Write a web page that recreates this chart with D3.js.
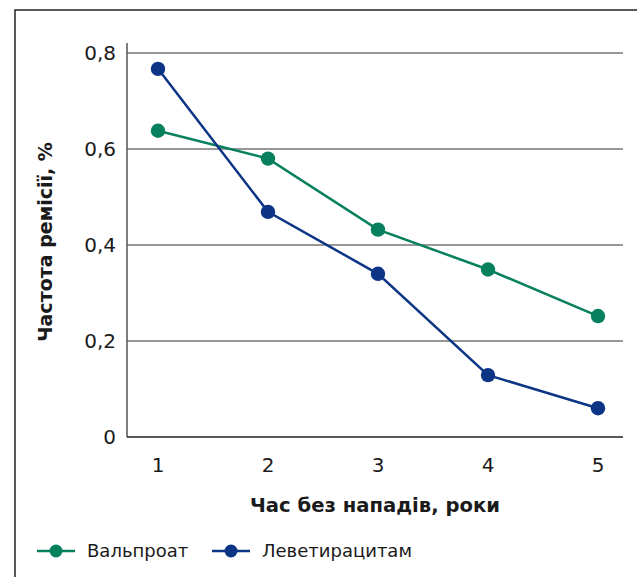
<!DOCTYPE html>
<html><head><meta charset="utf-8">
<script src="https://cdn.jsdelivr.net/npm/d3@7"></script>
<style>body{margin:0;background:#fff}svg{display:block}text{font-family:"DejaVu Sans",sans-serif;fill:#1a1a1a}</style>
</head><body><svg id="c" width="637" height="577"></svg>
<script>
const years = [1, 2, 3, 4, 5];
const valproate = [0.638, 0.580, 0.432, 0.349, 0.252];
const levetiracetam = [0.767, 0.469, 0.340, 0.129, 0.060];
const yTicks = [0, 0.2, 0.4, 0.6, 0.8];
const seriesNames = ["Вальпроат", "Леветирацитам"];
const colors = ["#07805e", "#0d3585"];
const xTitle = "Час без нападів, роки";
const yTitle = "Частота ремісії, %";

const svg = d3.select("#c");
// frame
svg.append("rect").attr("x",15).attr("y",10).attr("width",640).attr("height",600)
  .attr("fill","none").attr("stroke","#222").attr("stroke-width",1.5);

const x = d3.scaleLinear().domain([1,5]).range([158,598]);
const y = d3.scaleLinear().domain([0,0.8]).range([437,53]);
const axisLeft = 127, axisRight = 623;

// gridlines
svg.append("g").selectAll("line").data(yTicks.filter(d=>d>0)).join("line")
  .attr("x1",axisLeft).attr("x2",axisRight).attr("y1",d=>y(d)).attr("y2",d=>y(d))
  .attr("stroke","#333").attr("stroke-width",1.2);
// axes lines
svg.append("line").attr("x1",axisLeft).attr("x2",axisLeft).attr("y1",43).attr("y2",y(0))
  .attr("stroke","#555").attr("stroke-width",1.5);
svg.append("line").attr("x1",axisLeft).attr("x2",axisRight).attr("y1",y(0)).attr("y2",y(0))
  .attr("stroke","#222").attr("stroke-width",1.5);

// y tick labels
const fmt = d => d===0 ? "0" : d.toFixed(1).replace(".", ",");
svg.append("g").selectAll("text").data(yTicks).join("text")
  .attr("x",116).attr("y",d=>y(d)).attr("dy","0.35em").attr("text-anchor","end")
  .attr("font-size",20).text(fmt);
// x tick labels
svg.append("g").selectAll("text").data(years).join("text")
  .attr("x",d=>x(d)).attr("y",465).attr("dy","0.35em").attr("text-anchor","middle")
  .attr("font-size",20).text(d=>d);

// titles
svg.append("text").attr("x",375).attr("y",505).attr("dy","0.35em").attr("text-anchor","middle")
  .attr("font-size",19.6).attr("font-weight","bold").text(xTitle);
svg.append("text").attr("transform","translate(45,242) rotate(-90)").attr("dy","0.35em")
  .attr("text-anchor","middle").attr("font-size",19).attr("font-weight","bold").text(yTitle);

// series
const data = [valproate, levetiracetam];
const line = d3.line().x((d,i)=>x(years[i])).y(d=>y(d));
data.forEach((s,k)=>{
  svg.append("path").datum(s).attr("d",line).attr("fill","none")
    .attr("stroke",colors[k]).attr("stroke-width",2.5);
  svg.append("g").selectAll("circle").data(s).join("circle")
    .attr("cx",(d,i)=>x(years[i])).attr("cy",d=>y(d)).attr("r",7.2).attr("fill",colors[k]);
});

// legend
const legX = [37, 212];
seriesNames.forEach((n,k)=>{
  const g = svg.append("g").attr("transform",`translate(${legX[k]},551)`);
  g.append("line").attr("x1",0).attr("x2",38).attr("stroke",colors[k]).attr("stroke-width",2.5);
  g.append("circle").attr("cx",19).attr("r",6.5).attr("fill",colors[k]);
  g.append("text").attr("x",50).attr("dy","0.35em").attr("font-size",18).text(n);
});
</script></body></html>
